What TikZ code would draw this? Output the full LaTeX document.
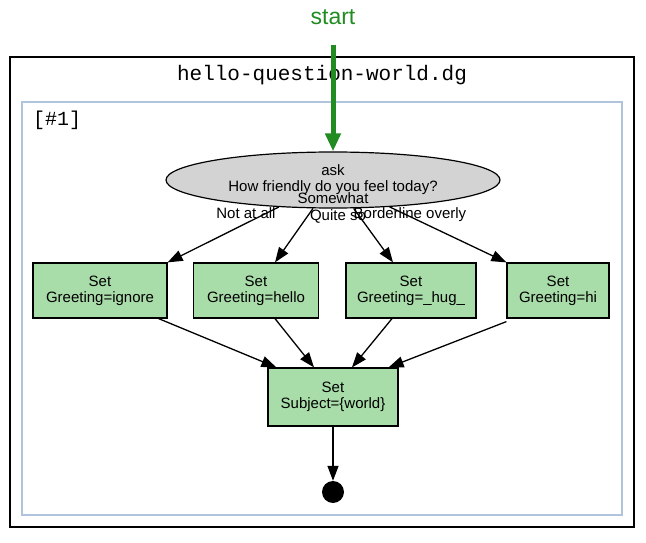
\documentclass[tikz,border=0pt]{standalone}
\usepackage{fontspec}
\setmainfont{Liberation Sans}
\setmonofont{Liberation Mono}
\usetikzlibrary{shapes.geometric, arrows.meta}
\definecolor{setgreen}{RGB}{168,220,168}
\definecolor{askgray}{RGB}{211,211,211}
\definecolor{clusterblue}{RGB}{176,196,222}
\definecolor{startgreen}{RGB}{34,139,34}
\tikzset{
  question/.style={ellipse, draw=black, fill=askgray, line width=1.2pt, minimum width=334pt, minimum height=56pt, inner sep=0, align=center, font=\fontsize{15}{16}\selectfont},
  action/.style={rectangle, draw=black, fill=setgreen, line width=1.2pt, minimum height=55pt, inner sep=0, align=center, font=\fontsize{15}{16}\selectfont},
  final/.style={circle, fill=black, minimum size=22pt, inner sep=0},
  choice/.style={inner sep=0, font=\fontsize{15}{16}\selectfont},
  flow/.style={-{Triangle[length=15pt,width=11pt]}, line width=1.3pt},
  mono/.style={inner sep=0, font=\ttfamily\fontsize{21}{24}\selectfont}
}

\begin{document}
\begin{tikzpicture}[x=1pt, y=-1pt]
  \useasboundingbox (0,0) rectangle (646,543);
  % clusters
  \draw[line width=1.6pt] (10,57) rectangle (634,527);
  \node[mono](title) at (322,75){hello-question-world.dg};
  \draw[clusterblue, line width=1.5pt] (22,102) rectangle (622,515);
  \node[mono, anchor=west, font=\ttfamily\fontsize{20}{24}\selectfont](tag) at (33,120){[\#1]};

  \node[question](ask) at (333,180){ask\\How friendly do you feel today?};
  \node[action, minimum width=134pt](g1) at (100,290.5){Set\\Greeting=ignore};
  \node[action, minimum width=125pt](g2) at (256,290.5){Set\\Greeting=hello};
  \node[action, minimum width=130pt](g3) at (411,290.5){Set\\Greeting=\_hug\_};
  \node[action, minimum width=102pt](g4) at (558,290.5){Set\\Greeting=hi};
  \node[action, minimum width=130pt, minimum height=58pt](subj) at (333,397){Set\\Subject=\{world\}};
  \node[final](done) at (333,492){};

  \draw[flow](ask)--(g1.north east);
  \draw[flow](ask)--([xshift=19pt]g2.north);
  \draw[flow](ask)--([xshift=-18pt]g3.north);
  \draw[flow](ask)--(g4.north west);
  \node[choice](c1) at (246,213){Not at all};
  \node[choice](c2) at (333,198){Somewhat};
  \node[choice](c3) at (338,216){Quite so};
  \node[choice](c4) at (410,215){Borderline overly};

  \draw[flow]([xshift=-9pt]g1.south east)--([xshift=9pt]subj.north west);
  \draw[flow]([xshift=19pt]g2.south)--([xshift=-19pt]subj.north);
  \draw[flow]([xshift=-19pt]g3.south)--([xshift=19pt]subj.north);
  \draw[flow]([yshift=-3pt]g4.south west)--([xshift=-10pt]subj.north east);
  \draw[flow](subj)--(done);

  % entry
  \node[inner sep=0, text=startgreen, font=\fontsize{23}{26}\selectfont](start) at (333,17){start};
  \draw[startgreen, line width=5pt, -{Triangle[length=18pt,width=15pt]}, shorten <=20pt](start)--(ask);
\end{tikzpicture}
\end{document}
